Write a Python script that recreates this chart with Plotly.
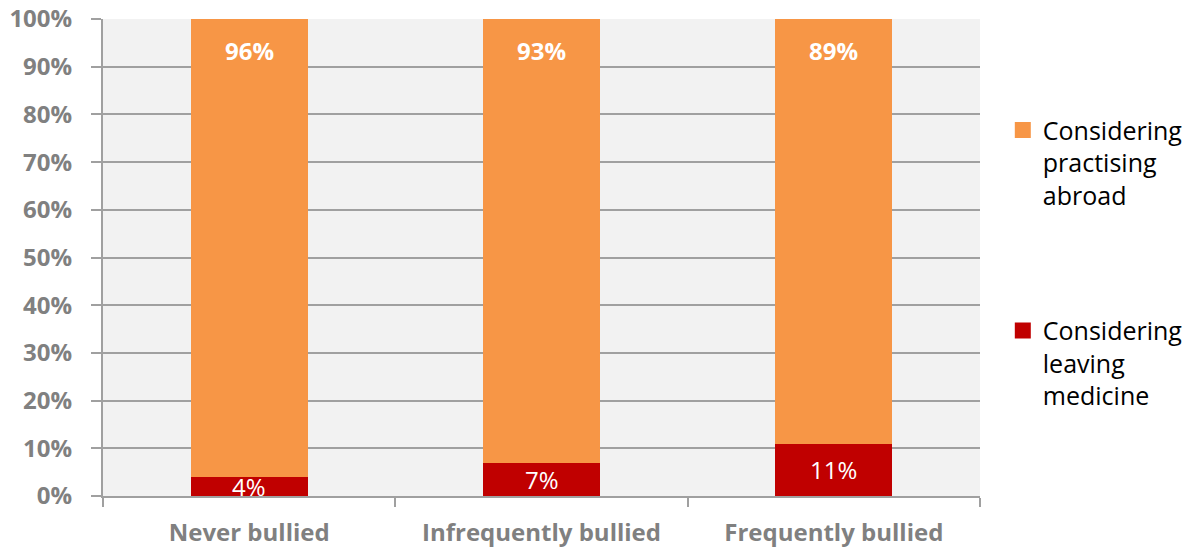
import plotly.graph_objects as go

# Stacked shares by bullying frequency
categories = ["Never bullied", "Infrequently bullied", "Frequently bullied"]
leaving_medicine = [4, 7, 11]
practising_abroad = [96, 93, 89]
name_leaving = "Considering<br>leaving<br>medicine"
name_abroad = "Considering<br>practising<br>abroad"
y_ticks = [0, 10, 20, 30, 40, 50, 60, 70, 80, 90, 100]

ORANGE = "#F79646"
RED = "#C00000"
GREY_TEXT = "#808080"
GRID = "#A0A0A0"
FONT = "Open Sans"

fig = go.Figure()
fig.add_trace(go.Bar(
    x=categories, y=leaving_medicine, name=name_leaving,
    marker=dict(color=RED, line=dict(width=0)),
    showlegend=False, hoverinfo="y",
))
fig.add_trace(go.Bar(
    x=categories, y=practising_abroad, name=name_abroad,
    marker=dict(color=ORANGE, line=dict(width=0)),
    showlegend=False, hoverinfo="y",
))

# Legend entries with larger square swatches
for rank, (name, color) in enumerate([(name_abroad, ORANGE), (name_leaving, RED)]):
    fig.add_trace(go.Scatter(
        x=[None], y=[None], mode="markers", name=name,
        marker=dict(symbol="square", size=17, color=color),
        legendgroup=f"g{rank}", legendrank=rank + 1, showlegend=True,
    ))

# Value labels: red segment centred, orange segment near the top
for cat, low, high in zip(categories, leaving_medicine, practising_abroad):
    fig.add_annotation(
        x=cat, y=low / 2, text=f"{low}%", showarrow=False,
        font=dict(family=FONT, size=24, color="white"),
        yanchor="middle",
    )
    fig.add_annotation(
        x=cat, y=low + high, text=f"<b>{high}%</b>", showarrow=False,
        font=dict(family=FONT, size=24, color="white"),
        yanchor="top", yshift=-13,
    )

fig.update_layout(
    width=1195, height=549,
    margin=dict(l=103, r=215, t=19, b=53, autoexpand=False),
    barmode="stack", bargap=0.6,
    plot_bgcolor="#F2F2F2", paper_bgcolor="white",
    font=dict(family=FONT, color=GREY_TEXT),
    legend=dict(
        x=1.026, y=0.815, xanchor="left", yanchor="top",
        traceorder="grouped", tracegroupgap=100,
        valign="top", itemsizing="trace",
        font=dict(family=FONT, size=25, color="black"),
        bgcolor="rgba(0,0,0,0)",
    ),
    xaxis=dict(
        showline=True, linecolor=GRID, linewidth=2,
        ticks="outside", tickson="boundaries", ticklen=9,
        tickcolor=GRID, tickwidth=2, automargin=False,
        tickfont=dict(family=FONT, size=24, color=GREY_TEXT, weight="bold"),
        ticklabelstandoff=14,
        showgrid=False,
    ),
    yaxis=dict(
        range=[0, 100], tickvals=y_ticks,
        ticktext=[f"{v}%" for v in y_ticks],
        showline=True, linecolor=GRID, linewidth=2,
        ticks="outside", ticklen=10, tickcolor=GRID, tickwidth=2,
        showgrid=True, gridcolor=GRID, gridwidth=2,
        zeroline=False, automargin=False,
        ticklabelstandoff=14,
        tickfont=dict(family=FONT, size=24, color=GREY_TEXT, weight="bold"),
    ),
)

fig.write_html("out.html")
